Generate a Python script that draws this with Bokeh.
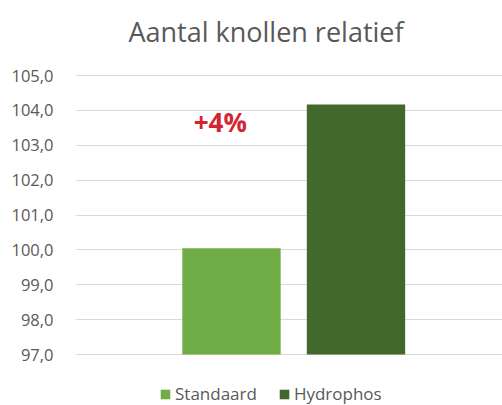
from bokeh.plotting import figure
from bokeh.models import Range1d, FixedTicker, Legend, LegendItem, Label
from bokeh.embed import file_html
from bokeh.resources import INLINE

# data
categories = ["Standaard", "Hydrophos"]
values = [100.05, 104.17]
colors = ["#70AD47", "#43682B"]
y_ticks = [97, 98, 99, 100, 101, 102, 103, 104, 105]
y_tick_labels = ["97,0", "98,0", "99,0", "100,0", "101,0", "102,0", "103,0", "104,0", "105,0"]
title_text = "Aantal knollen relatief"
annotation_text = "+4%"
annotation_x = -0.09
annotation_y = 103.68
y_min, y_max = 97, 105

FONT = "Open Sans"
GREY = "#595959"

W, H = 502, 405
LEFT = 75          # plot area left edge (px)
TOP_PX = 75        # pixel row of the axis maximum
BOTTOM_PX = 354    # pixel row of the axis minimum
ppu = (BOTTOM_PX - TOP_PX) / (y_max - y_min)
y_lo = y_min - (H - BOTTOM_PX) / ppu
y_hi = y_max + TOP_PX / ppu

p = figure(width=W, height=H, output_backend="svg", toolbar_location=None,
           x_range=Range1d(-1.253, 2.177), y_range=Range1d(y_lo, y_hi),
           min_border_left=LEFT, min_border_right=0, min_border_top=0,
           min_border_bottom=0)
p.outline_line_color = None
p.background_fill_color = "white"
p.border_fill_color = "white"

renderers = []
for i, c in enumerate(categories):
    r = p.vbar(x=[i], top=[values[i]], bottom=y_min, width=0.79,
               fill_color=colors[i], line_color=None)
    renderers.append(r)

p.xaxis.visible = False
p.xgrid.visible = False
p.ygrid.grid_line_color = "#D9D9D9"
p.ygrid.grid_line_width = 1
p.yaxis.ticker = FixedTicker(ticks=y_ticks)
p.yaxis.major_label_overrides = {t: l for t, l in zip(y_ticks, y_tick_labels)}
p.yaxis.axis_line_color = None
p.yaxis.major_tick_line_color = None
p.yaxis.minor_tick_line_color = None
p.yaxis.major_label_standoff = 16
p.yaxis.major_label_text_font = FONT
p.yaxis.major_label_text_font_size = "16.5px"
p.yaxis.major_label_text_color = GREY

# chart title, centred over the plot area
p.add_layout(Label(x=265.5 - LEFT, y=H - 31, x_units="screen", y_units="screen",
                   text=title_text, text_align="center", text_baseline="middle",
                   text_font=FONT, text_font_size="27px", text_color=GREY))

p.add_layout(Label(x=annotation_x, y=annotation_y, text=annotation_text,
                   text_align="center", text_baseline="middle",
                   text_font=FONT, text_font_size="26px",
                   text_font_style="bold", text_color="#D22630"))

legend = Legend(items=[LegendItem(label=c, renderers=[renderers[i]])
                       for i, c in enumerate(categories)],
                location=(84, 0), orientation="horizontal",
                padding=0, margin=0, spacing=21, label_standoff=4,
                glyph_width=12, glyph_height=12,
                label_text_font=FONT, label_text_font_size="17px",
                label_text_color=GREY, border_line_color=None,
                background_fill_alpha=0)
p.add_layout(legend, "center")

open("out.html", "w").write(file_html(p, INLINE))
